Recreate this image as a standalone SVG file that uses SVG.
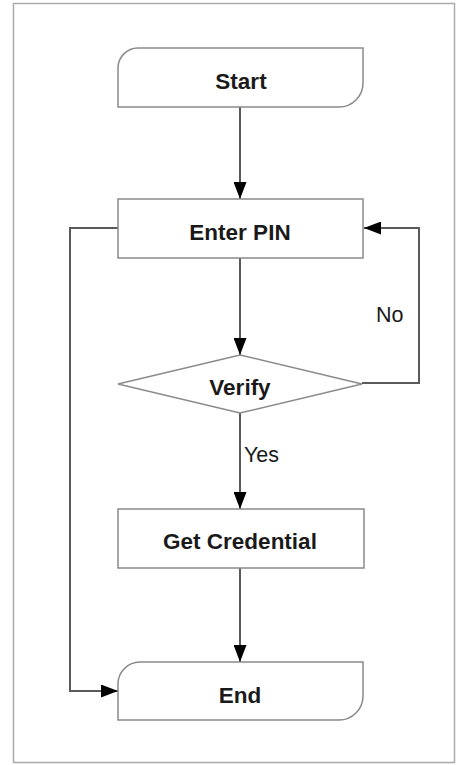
<svg xmlns="http://www.w3.org/2000/svg" width="456" height="765" viewBox="0 0 456 765">
<style>
.shape{fill:#fff;stroke:#8a8a8a;stroke-width:1.5}
.conn{fill:none;stroke:#5a5a5a;stroke-width:2}
.lbl{font-family:"Liberation Sans",Arial,sans-serif;font-weight:bold;font-size:22.5px;fill:#1a1a1a;text-anchor:middle}
.elbl{font-family:"Liberation Sans",Arial,sans-serif;font-size:21.5px;fill:#1a1a1a}
</style>
<defs>
<marker id="arr" markerWidth="17" markerHeight="13" refX="17" refY="6.5" orient="auto" markerUnits="userSpaceOnUse">
<path d="M0,0 L17,6.5 L0,13 Z" fill="#000"/>
</marker>
</defs>
<rect x="13.5" y="3.5" width="441" height="759" fill="#fff" stroke="#aaa" stroke-width="1.5"/>
<g id="connectors">
<line class="conn" x1="240" y1="107" x2="240" y2="199" marker-end="url(#arr)"/>
<line class="conn" x1="240" y1="258" x2="240" y2="355" marker-end="url(#arr)"/>
<polyline class="conn" points="362,383 419,383 419,228 364,228" marker-end="url(#arr)"/>
<line class="conn" x1="240" y1="413" x2="240" y2="509" marker-end="url(#arr)"/>
<line class="conn" x1="240" y1="568" x2="240" y2="662" marker-end="url(#arr)"/>
<polyline class="conn" points="118,228 70,228 70,691 118,691" marker-end="url(#arr)"/>
<text class="elbl" x="244" y="462">Yes</text>
<text class="elbl" x="376" y="322">No</text>
</g>
<g id="start">
<path class="shape" d="M118,107 V68 A20,20 0 0 1 138,48 H363 V83 A24,24 0 0 1 339,107 Z"/>
<text class="lbl" x="241" y="89">Start</text>
</g>
<g id="enter-pin">
<rect class="shape" x="118" y="199" width="245" height="59"/>
<text class="lbl" x="240" y="240">Enter PIN</text>
</g>
<g id="verify">
<polygon class="shape" points="240,355 362,384 240,413 118,384"/>
<text class="lbl" x="240" y="395">Verify</text>
</g>
<g id="get-credential">
<rect class="shape" x="118" y="509" width="246" height="59"/>
<text class="lbl" x="240" y="549">Get Credential</text>
</g>
<g id="end">
<path class="shape" d="M118,720 V684 A22,22 0 0 1 140,662 H363 V696 A24,24 0 0 1 339,720 Z"/>
<text class="lbl" x="240" y="703">End</text>
</g>
</svg>
